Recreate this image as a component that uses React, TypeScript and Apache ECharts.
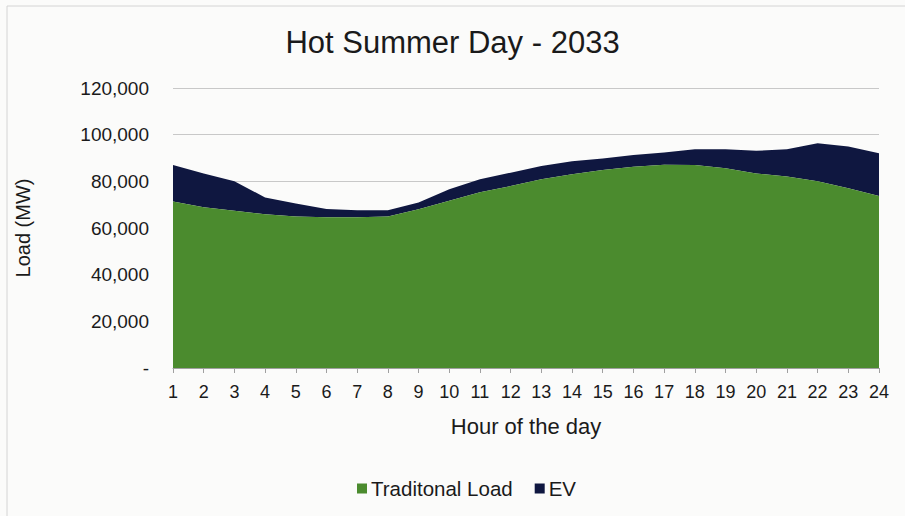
import React, { useEffect, useRef } from "react";
import * as echarts from "echarts";

const hours = ["1","2","3","4","5","6","7","8","9","10","11","12","13","14","15","16","17","18","19","20","21","22","23","24"];
const traditionalLoad = [71400, 68900, 67400, 65900, 64900, 64600, 64600, 64900, 68000, 71700, 75300, 78000, 80900, 83000, 84900, 86300, 87100, 87000, 85600, 83400, 82100, 80000, 77000, 73700];
const evLoad = [15600, 14500, 12600, 7200, 5600, 3500, 3000, 2700, 2900, 4900, 5600, 5700, 5700, 5600, 4900, 5000, 5300, 6700, 8100, 9700, 11600, 16300, 17900, 18300];

const FONT = "'Liberation Sans', Arial, sans-serif";

export default function App() {
  const ref = useRef<HTMLDivElement>(null);
  useEffect(() => {
    const chart = echarts.init(ref.current!, null, { renderer: "svg" });
    chart.setOption({
      animation: false,
      backgroundColor: "#fbfbfa",
      textStyle: { fontFamily: FONT },
      title: {
        text: "Hot Summer Day - 2033",
        left: "center",
        top: 22,
        textStyle: { fontFamily: FONT, fontSize: 31, fontWeight: "normal", color: "#1a1a1a" },
      },
      graphic: [
        { type: "rect", shape: { x: 7, y: 6, width: 910, height: 520 }, style: { fill: "none", stroke: "#d4d4d4", lineWidth: 1 }, silent: true },
      ],
      legend: {
        top: 473,
        left: 352,
        itemWidth: 10,
        itemHeight: 10,
        itemGap: 22,
        icon: "rect",
        textStyle: { fontFamily: FONT, fontSize: 20.5, color: "#1a1a1a", padding: [0, 0, 0, -1] },
        data: ["Traditonal Load", "EV"],
      },
      grid: { left: 173, right: 26, top: 88, bottom: 148 },
      xAxis: {
        type: "category",
        data: hours,
        boundaryGap: false,
        name: "Hour of the day",
        nameLocation: "middle",
        nameGap: 47,
        nameTextStyle: { fontFamily: FONT, fontSize: 22, color: "#1a1a1a" },
        axisLine: { lineStyle: { color: "#a0a0a0" } },
        axisTick: { show: true, length: 5, lineStyle: { color: "#a0a0a0" } },
        axisLabel: { fontFamily: FONT, fontSize: 18, color: "#1a1a1a", margin: 15, interval: 0 },
      },
      yAxis: {
        type: "value",
        min: 0,
        max: 120000,
        interval: 20000,
        name: "Load (MW)",
        nameLocation: "middle",
        nameGap: 140,
        nameTextStyle: { fontFamily: FONT, fontSize: 20, color: "#1a1a1a" },
        axisLine: { show: false },
        axisTick: { show: false },
        splitLine: { lineStyle: { color: "#c8c8c8", width: 1 } },
        axisLabel: {
          fontFamily: FONT,
          fontSize: 19,
          color: "#1a1a1a",
          margin: 24,
          formatter: (v: number) => (v === 0 ? "-" : v.toLocaleString("en-US")),
        },
      },
      series: [
        {
          name: "Traditonal Load",
          type: "line",
          stack: "total",
          data: traditionalLoad,
          symbol: "none",
          lineStyle: { width: 0 },
          areaStyle: { color: "#4b8b2e", opacity: 1 },
          itemStyle: { color: "#4b8b2e" },
          z: 3,
        },
        {
          name: "EV",
          type: "line",
          stack: "total",
          data: evLoad,
          symbol: "none",
          lineStyle: { width: 0 },
          areaStyle: { color: "#0f1740", opacity: 1 },
          itemStyle: { color: "#0f1740" },
          z: 2,
        },
      ],
    });
    return () => chart.dispose();
  }, []);
  return <div ref={ref} style={{ position: "fixed", left: 0, top: 0, width: 905, height: 516 }} />;
}
